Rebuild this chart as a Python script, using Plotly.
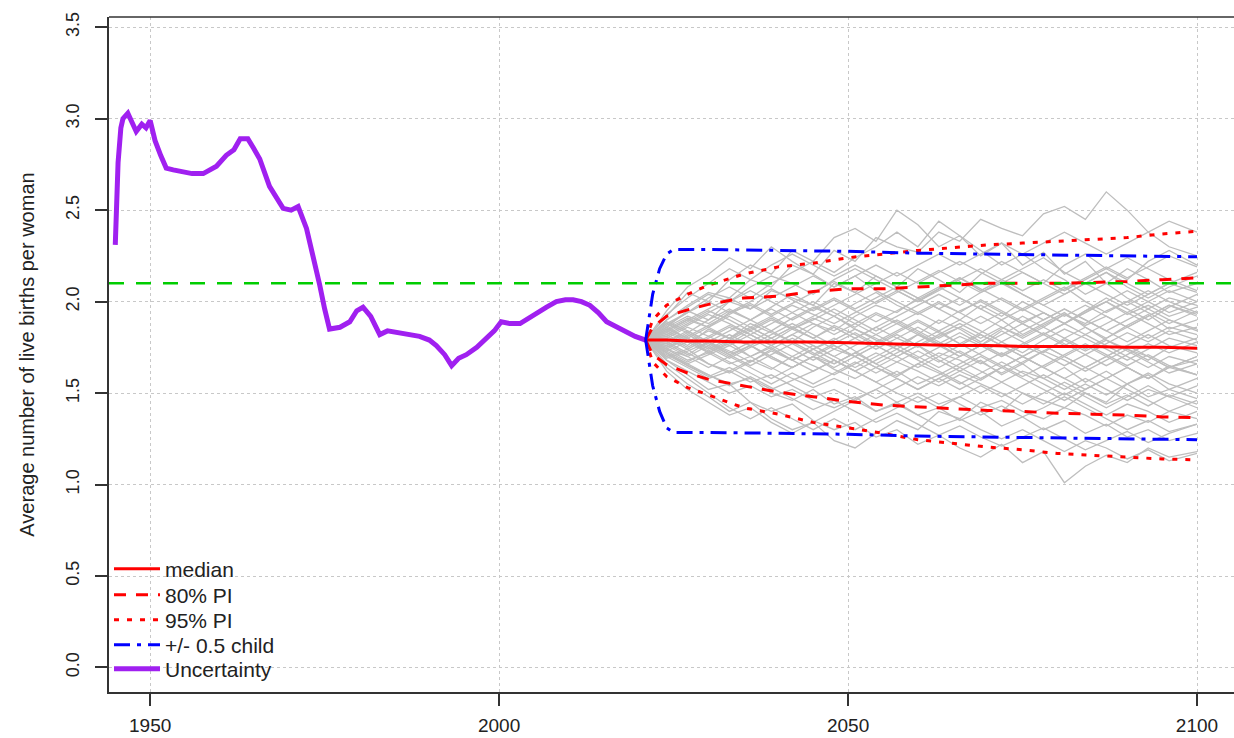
import plotly.graph_objects as go

# ---------------- data ----------------
HIST_YEARS = [1945.0, 1945.4, 1945.8, 1946.1, 1946.8, 1947.4, 1948.0, 1948.8, 1949.4, 1950.0,
              1950.7, 1951.5, 1952.3, 1953.3, 1954.3, 1956.0, 1957.6, 1958.5, 1959.5, 1960.9,
              1962.0, 1962.9, 1964.0, 1964.8, 1965.7, 1967.1, 1968.0, 1969.05, 1970.2, 1971.2,
              1972.4, 1973.6, 1974.3, 1975.0, 1975.7, 1977.2, 1978.6, 1979.6, 1980.5, 1981.6,
              1982.9, 1984.0, 1985.3, 1987.0, 1988.6, 1990.0, 1991.0, 1992.2, 1993.2, 1994.2,
              1995.3, 1996.8, 1998.2, 1999.3, 2000.3, 2001.5, 2003.0, 2004.2, 2005.4, 2006.8,
              2008.2, 2009.5, 2010.6, 2011.8, 2013.0, 2014.2, 2015.4, 2016.8, 2018.3, 2019.5,
              2021.0]
HIST_TFR = [2.31, 2.76, 2.95, 3.00, 3.03, 2.98, 2.93, 2.97, 2.95, 2.99,
            2.88, 2.80, 2.73, 2.72, 2.71, 2.70, 2.70, 2.72, 2.74, 2.80,
            2.83, 2.89, 2.89, 2.84, 2.78, 2.63, 2.58, 2.51, 2.50, 2.52,
            2.40, 2.22, 2.09, 1.96, 1.85, 1.86, 1.89, 1.95, 1.97, 1.92,
            1.82, 1.84, 1.83, 1.82, 1.81, 1.79, 1.76, 1.71, 1.65, 1.69,
            1.71, 1.75, 1.80, 1.84, 1.89, 1.88, 1.88, 1.91, 1.94, 1.97,
            2.00, 2.01, 2.01, 2.00, 1.98, 1.94, 1.89, 1.86, 1.83, 1.81,
            1.79]

PI_YEARS = [2021, 2022, 2024, 2027, 2030, 2035, 2040, 2045, 2050, 2055, 2060, 2065,
            2070, 2075, 2080, 2085, 2090, 2095, 2100]
MEDIAN = [1.79, 1.79, 1.79, 1.785, 1.785, 1.78, 1.78, 1.78, 1.775, 1.77, 1.765, 1.76,
          1.76, 1.755, 1.755, 1.755, 1.75, 1.75, 1.745]
PI80_UP = [1.79, 1.86, 1.92, 1.955, 1.985, 2.02, 2.03, 2.055, 2.07, 2.07, 2.08, 2.09,
           2.10, 2.10, 2.10, 2.105, 2.11, 2.12, 2.13]
PI80_LO = [1.79, 1.71, 1.655, 1.61, 1.575, 1.54, 1.505, 1.48, 1.455, 1.435, 1.425, 1.415,
           1.405, 1.40, 1.39, 1.385, 1.38, 1.37, 1.365]
PI95_UP = [1.79, 1.90, 1.98, 2.04, 2.09, 2.15, 2.19, 2.21, 2.24, 2.26, 2.28, 2.295,
           2.31, 2.32, 2.33, 2.34, 2.35, 2.37, 2.385]
PI95_LO = [1.79, 1.67, 1.59, 1.53, 1.49, 1.42, 1.385, 1.34, 1.31, 1.28, 1.245, 1.225,
           1.205, 1.19, 1.17, 1.16, 1.15, 1.14, 1.135]

HALF_YEARS = [2021, 2022, 2023, 2024, 2025, 2030, 2040, 2050, 2060, 2070, 2080, 2090, 2100]
HALF_UP = [1.79, 2.04, 2.18, 2.26, 2.285, 2.285, 2.28, 2.275, 2.265, 2.26, 2.255, 2.25, 2.245]
HALF_LO = [1.79, 1.54, 1.40, 1.31, 1.285, 1.285, 1.28, 1.275, 1.265, 1.26, 1.255, 1.25, 1.245]

REPLACEMENT = 2.1

TRAJ_YEARS = [2021, 2024, 2027, 2030, 2033, 2036, 2039, 2042, 2045, 2048, 2051, 2054, 2057, 2060,
              2063, 2066, 2069, 2072, 2075, 2078, 2081, 2084, 2087, 2090, 2093, 2096, 2100]
TRAJECTORIES = [
    [1.79, 1.90, 1.98, 2.05, 2.02, 2.12, 2.08, 2.20, 2.15, 2.28, 2.22, 2.35, 2.30, 2.27, 2.38, 2.33, 2.45, 2.40, 2.36, 2.48, 2.52, 2.45, 2.60, 2.50, 2.38, 2.30, 2.25],
    [1.79, 1.68, 1.60, 1.52, 1.55, 1.45, 1.40, 1.44, 1.35, 1.30, 1.34, 1.26, 1.30, 1.22, 1.27, 1.20, 1.15, 1.22, 1.12, 1.18, 1.01, 1.10, 1.16, 1.12, 1.20, 1.15, 1.18],
    [1.79, 1.92, 2.05, 2.00, 2.12, 2.20, 2.15, 2.28, 2.22, 2.35, 2.40, 2.33, 2.50, 2.42, 2.30, 2.36, 2.25, 2.32, 2.20, 2.27, 2.15, 2.22, 2.10, 2.18, 2.12, 2.05, 2.10],
    [1.79, 1.64, 1.55, 1.48, 1.40, 1.45, 1.36, 1.30, 1.34, 1.24, 1.20, 1.28, 1.35, 1.30, 1.40, 1.36, 1.45, 1.40, 1.50, 1.46, 1.42, 1.50, 1.45, 1.55, 1.48, 1.52, 1.47],
    [1.79, 1.86, 1.95, 1.90, 2.00, 1.96, 2.06, 2.02, 1.98, 2.10, 2.05, 2.14, 2.08, 2.18, 2.12, 2.05, 2.15, 2.22, 2.16, 2.10, 2.20, 2.26, 2.18, 2.12, 2.22, 2.28, 2.20],
    [1.79, 1.72, 1.65, 1.60, 1.55, 1.58, 1.50, 1.46, 1.52, 1.44, 1.48, 1.40, 1.45, 1.38, 1.42, 1.35, 1.40, 1.32, 1.37, 1.30, 1.35, 1.28, 1.33, 1.26, 1.30, 1.24, 1.28],
    [1.79, 1.82, 1.76, 1.85, 1.80, 1.88, 1.83, 1.78, 1.86, 1.92, 1.85, 1.80, 1.74, 1.82, 1.77, 1.70, 1.76, 1.84, 1.78, 1.72, 1.80, 1.86, 1.79, 1.74, 1.68, 1.75, 1.80],
    [1.79, 1.75, 1.80, 1.72, 1.78, 1.70, 1.75, 1.68, 1.74, 1.80, 1.73, 1.66, 1.72, 1.78, 1.84, 1.77, 1.83, 1.90, 1.82, 1.88, 1.94, 1.86, 1.80, 1.87, 1.93, 1.85, 1.90],
    [1.79, 1.84, 1.90, 1.86, 1.94, 1.98, 1.92, 1.86, 1.80, 1.87, 1.82, 1.76, 1.70, 1.76, 1.68, 1.62, 1.68, 1.60, 1.66, 1.58, 1.64, 1.56, 1.62, 1.55, 1.60, 1.52, 1.58],
    [1.79, 1.74, 1.68, 1.72, 1.66, 1.70, 1.76, 1.82, 1.88, 1.84, 1.92, 1.98, 1.94, 2.02, 1.96, 1.90, 1.98, 1.92, 2.00, 1.94, 1.88, 1.95, 2.02, 1.96, 1.90, 1.97, 2.04],
    [1.79, 1.88, 1.83, 1.90, 1.96, 1.90, 1.97, 2.04, 1.98, 1.92, 1.86, 1.93, 1.88, 1.82, 1.90, 1.85, 1.78, 1.85, 1.92, 1.86, 1.93, 1.88, 1.95, 2.00, 1.94, 1.88, 1.95],
    [1.79, 1.70, 1.74, 1.66, 1.62, 1.68, 1.63, 1.70, 1.65, 1.60, 1.66, 1.72, 1.67, 1.62, 1.56, 1.62, 1.57, 1.64, 1.70, 1.64, 1.58, 1.52, 1.58, 1.64, 1.58, 1.65, 1.60],
    [1.79, 1.83, 1.78, 1.72, 1.77, 1.84, 1.78, 1.85, 1.90, 1.96, 1.90, 1.84, 1.90, 1.84, 1.78, 1.72, 1.66, 1.72, 1.66, 1.73, 1.68, 1.62, 1.68, 1.74, 1.70, 1.64, 1.70],
    [1.79, 1.77, 1.71, 1.78, 1.73, 1.67, 1.74, 1.80, 1.74, 1.68, 1.62, 1.56, 1.62, 1.55, 1.60, 1.66, 1.72, 1.78, 1.72, 1.79, 1.85, 1.80, 1.74, 1.68, 1.74, 1.80, 1.76],
    [1.79, 1.90, 1.97, 2.04, 2.00, 2.08, 2.14, 2.10, 2.04, 2.12, 2.18, 2.12, 2.06, 2.00, 2.07, 2.13, 2.06, 2.12, 2.18, 2.24, 2.16, 2.10, 2.16, 2.08, 2.02, 2.08, 2.14],
    [1.79, 1.68, 1.62, 1.56, 1.50, 1.54, 1.48, 1.52, 1.46, 1.42, 1.47, 1.52, 1.45, 1.50, 1.44, 1.48, 1.42, 1.46, 1.40, 1.36, 1.42, 1.38, 1.32, 1.38, 1.34, 1.40, 1.36],
    [1.79, 1.81, 1.87, 1.93, 1.88, 1.82, 1.76, 1.82, 1.76, 1.70, 1.76, 1.82, 1.88, 1.94, 1.88, 1.95, 2.00, 1.94, 1.88, 1.82, 1.76, 1.82, 1.76, 1.70, 1.64, 1.70, 1.66],
    [1.79, 1.73, 1.78, 1.84, 1.80, 1.86, 1.80, 1.74, 1.68, 1.74, 1.70, 1.76, 1.82, 1.76, 1.82, 1.88, 1.82, 1.76, 1.70, 1.64, 1.70, 1.76, 1.70, 1.76, 1.82, 1.76, 1.72],
    [1.79, 1.86, 1.80, 1.74, 1.80, 1.76, 1.70, 1.64, 1.70, 1.66, 1.72, 1.66, 1.60, 1.66, 1.72, 1.68, 1.62, 1.56, 1.62, 1.58, 1.52, 1.58, 1.52, 1.46, 1.52, 1.48, 1.54],
    [1.79, 1.78, 1.84, 1.78, 1.84, 1.90, 1.96, 1.90, 1.96, 2.02, 1.96, 2.02, 2.08, 2.02, 1.96, 2.02, 1.96, 1.90, 1.96, 2.02, 2.08, 2.00, 1.94, 2.00, 2.06, 2.00, 1.94],
    [1.79, 1.88, 1.94, 2.02, 2.08, 2.02, 2.10, 2.16, 2.22, 2.16, 2.24, 2.30, 2.38, 2.30, 2.44, 2.36, 2.28, 2.20, 2.26, 2.18, 2.12, 2.04, 2.10, 2.02, 1.96, 2.02, 1.98],
    [1.79, 1.70, 1.64, 1.58, 1.62, 1.56, 1.60, 1.54, 1.48, 1.52, 1.46, 1.40, 1.44, 1.38, 1.32, 1.36, 1.30, 1.25, 1.30, 1.24, 1.18, 1.24, 1.20, 1.14, 1.19, 1.13, 1.17],
    [1.79, 1.76, 1.70, 1.64, 1.70, 1.64, 1.58, 1.64, 1.70, 1.64, 1.70, 1.64, 1.58, 1.52, 1.58, 1.52, 1.58, 1.64, 1.58, 1.52, 1.46, 1.52, 1.58, 1.52, 1.46, 1.40, 1.46],
    [1.79, 1.85, 1.91, 1.86, 1.80, 1.86, 1.92, 1.98, 1.93, 1.88, 1.94, 2.00, 2.06, 2.00, 2.06, 2.12, 2.18, 2.12, 2.06, 2.12, 2.06, 2.12, 2.18, 2.24, 2.18, 2.12, 2.06],
    [1.79, 1.74, 1.80, 1.75, 1.69, 1.75, 1.80, 1.86, 1.80, 1.86, 1.80, 1.74, 1.80, 1.86, 1.80, 1.86, 1.92, 1.86, 1.80, 1.86, 1.80, 1.74, 1.80, 1.86, 1.92, 1.98, 1.92],
    [1.79, 1.80, 1.74, 1.80, 1.86, 1.80, 1.74, 1.68, 1.62, 1.68, 1.62, 1.68, 1.74, 1.68, 1.62, 1.56, 1.50, 1.56, 1.50, 1.44, 1.50, 1.44, 1.38, 1.44, 1.40, 1.34, 1.40],
    [1.79, 1.95, 2.08, 2.15, 2.24, 2.18, 2.30, 2.22, 2.15, 2.08, 2.14, 2.06, 2.00, 1.94, 2.00, 1.94, 1.88, 1.94, 1.88, 1.82, 1.88, 1.94, 2.00, 1.94, 2.00, 2.06, 2.00],
    [1.79, 1.62, 1.52, 1.45, 1.38, 1.42, 1.34, 1.28, 1.34, 1.40, 1.46, 1.52, 1.58, 1.52, 1.58, 1.64, 1.70, 1.64, 1.70, 1.76, 1.70, 1.64, 1.70, 1.64, 1.58, 1.64, 1.60],
    [1.79, 1.82, 1.88, 1.94, 2.00, 2.06, 2.00, 1.94, 2.00, 1.94, 1.88, 1.82, 1.76, 1.82, 1.76, 1.70, 1.76, 1.70, 1.76, 1.82, 1.88, 1.82, 1.88, 1.94, 1.88, 1.82, 1.86],
    [1.79, 1.76, 1.82, 1.76, 1.70, 1.76, 1.70, 1.64, 1.70, 1.76, 1.70, 1.76, 1.70, 1.64, 1.70, 1.76, 1.82, 1.76, 1.70, 1.64, 1.58, 1.64, 1.70, 1.76, 1.70, 1.64, 1.70],
    [1.79, 1.86, 1.92, 1.88, 1.95, 1.90, 1.84, 1.91, 1.97, 1.92, 1.99, 2.05, 1.98, 1.93, 1.99, 1.94, 2.01, 1.95, 1.89, 1.94, 1.88, 1.95, 2.00, 1.93, 1.98, 1.92, 1.97],
    [1.79, 1.69, 1.73, 1.78, 1.71, 1.76, 1.69, 1.64, 1.70, 1.63, 1.58, 1.64, 1.59, 1.66, 1.61, 1.55, 1.61, 1.67, 1.61, 1.55, 1.49, 1.55, 1.49, 1.55, 1.61, 1.55, 1.50],
    [1.79, 1.83, 1.89, 1.95, 1.90, 1.84, 1.90, 1.85, 1.91, 1.86, 1.80, 1.86, 1.92, 1.98, 2.04, 1.98, 2.05, 2.10, 2.04, 1.98, 2.04, 2.10, 2.16, 2.10, 2.04, 2.10, 2.05],
    [1.79, 1.72, 1.66, 1.71, 1.76, 1.70, 1.64, 1.58, 1.53, 1.58, 1.53, 1.47, 1.53, 1.59, 1.54, 1.60, 1.55, 1.50, 1.44, 1.50, 1.56, 1.50, 1.44, 1.49, 1.43, 1.49, 1.44],
    [1.79, 1.84, 1.79, 1.73, 1.79, 1.85, 1.91, 1.85, 1.80, 1.74, 1.80, 1.86, 1.80, 1.75, 1.81, 1.86, 1.80, 1.86, 1.81, 1.87, 1.93, 1.87, 1.92, 1.86, 1.80, 1.86, 1.82],
    [1.79, 1.78, 1.72, 1.66, 1.61, 1.67, 1.73, 1.68, 1.74, 1.79, 1.85, 1.79, 1.74, 1.69, 1.75, 1.81, 1.76, 1.70, 1.76, 1.71, 1.65, 1.71, 1.77, 1.83, 1.78, 1.84, 1.79],
    [1.79, 1.87, 1.94, 2.00, 1.94, 2.00, 2.07, 2.01, 1.95, 2.01, 1.95, 1.89, 1.95, 2.01, 2.07, 2.13, 2.07, 2.01, 1.95, 2.01, 2.07, 2.13, 2.19, 2.13, 2.19, 2.25, 2.19],
    [1.79, 1.71, 1.65, 1.59, 1.64, 1.58, 1.52, 1.57, 1.62, 1.68, 1.62, 1.56, 1.50, 1.45, 1.50, 1.44, 1.38, 1.43, 1.37, 1.42, 1.48, 1.42, 1.36, 1.30, 1.35, 1.29, 1.33],
    [1.79, 1.81, 1.75, 1.81, 1.76, 1.82, 1.88, 1.94, 1.88, 1.82, 1.88, 1.94, 1.89, 1.83, 1.77, 1.83, 1.77, 1.71, 1.77, 1.83, 1.77, 1.71, 1.65, 1.71, 1.77, 1.72, 1.78],
    [1.79, 1.75, 1.81, 1.87, 1.93, 1.99, 1.93, 1.99, 2.05, 2.11, 2.05, 1.99, 2.05, 2.11, 2.17, 2.11, 2.05, 2.11, 2.04, 1.98, 1.92, 1.98, 1.92, 1.86, 1.92, 1.98, 1.93],
    [1.79, 1.77, 1.83, 1.77, 1.71, 1.65, 1.71, 1.77, 1.71, 1.77, 1.83, 1.77, 1.83, 1.89, 1.83, 1.77, 1.71, 1.65, 1.59, 1.65, 1.71, 1.77, 1.71, 1.65, 1.71, 1.65, 1.60],
    [1.79, 1.89, 1.84, 1.78, 1.72, 1.78, 1.84, 1.78, 1.72, 1.66, 1.72, 1.78, 1.84, 1.90, 1.84, 1.90, 1.84, 1.78, 1.84, 1.90, 1.96, 1.90, 1.84, 1.78, 1.84, 1.90, 1.85],
    [1.79, 1.74, 1.70, 1.76, 1.82, 1.76, 1.82, 1.88, 1.82, 1.76, 1.70, 1.64, 1.70, 1.76, 1.70, 1.64, 1.58, 1.64, 1.70, 1.76, 1.70, 1.64, 1.58, 1.64, 1.58, 1.64, 1.68],
    [1.79, 1.80, 1.86, 1.81, 1.87, 1.82, 1.76, 1.70, 1.76, 1.70, 1.64, 1.70, 1.76, 1.70, 1.64, 1.70, 1.76, 1.82, 1.88, 1.94, 1.88, 1.94, 2.00, 2.06, 2.00, 1.94, 2.00],
    [1.79, 1.73, 1.67, 1.73, 1.67, 1.61, 1.55, 1.61, 1.55, 1.61, 1.67, 1.61, 1.67, 1.73, 1.67, 1.73, 1.67, 1.61, 1.67, 1.73, 1.79, 1.73, 1.79, 1.73, 1.67, 1.61, 1.66],
    [1.79, 1.85, 1.80, 1.86, 1.92, 1.86, 1.80, 1.86, 1.92, 1.98, 2.04, 2.10, 2.16, 2.10, 2.16, 2.22, 2.16, 2.10, 2.16, 2.10, 2.04, 2.10, 2.04, 1.98, 2.04, 2.10, 2.16],
    [1.79, 1.93, 2.02, 2.10, 2.18, 2.12, 2.20, 2.26, 2.20, 2.14, 2.20, 2.14, 2.08, 2.02, 2.08, 2.02, 1.96, 2.02, 1.96, 1.90, 1.96, 1.90, 1.84, 1.90, 1.96, 1.90, 1.84],
    [1.79, 1.66, 1.58, 1.50, 1.42, 1.36, 1.42, 1.36, 1.30, 1.36, 1.30, 1.36, 1.42, 1.48, 1.42, 1.48, 1.54, 1.48, 1.54, 1.60, 1.54, 1.48, 1.42, 1.48, 1.54, 1.48, 1.42],
    [1.79, 1.72, 1.66, 1.60, 1.54, 1.59, 1.53, 1.47, 1.41, 1.46, 1.40, 1.34, 1.39, 1.33, 1.27, 1.32, 1.26, 1.21, 1.26, 1.31, 1.25, 1.19, 1.24, 1.29, 1.23, 1.28, 1.33],
    [1.79, 1.84, 1.90, 1.96, 2.02, 1.96, 2.02, 2.08, 2.14, 2.08, 2.14, 2.20, 2.14, 2.20, 2.26, 2.20, 2.26, 2.32, 2.26, 2.32, 2.38, 2.32, 2.26, 2.32, 2.38, 2.44, 2.38],
]

X_TICKS = [1950, 2000, 2050, 2100]
Y_TICKS = [0.0, 0.5, 1.0, 1.5, 2.0, 2.5, 3.0, 3.5]
Y_TICK_LABELS = ["0.0", "0.5", "1.0", "1.5", "2.0", "2.5", "3.0", "3.5"]
Y_TITLE = "Average number of live births per woman"

# ---------------- figure ----------------
FONT = "Liberation Sans, Arial, sans-serif"
RED = "#FF0000"
BLUE = "#0000FF"
PURPLE = "#A020F0"
GREEN = "#00CD00"
GREY = "#BEBEBE"
TXT = "#222222"

fig = go.Figure()

for traj in TRAJECTORIES:
    fig.add_trace(go.Scatter(x=TRAJ_YEARS, y=traj, mode="lines",
                             line=dict(color=GREY, width=1.3), showlegend=False,
                             hoverinfo="skip"))

fig.add_hline(y=REPLACEMENT, line=dict(color=GREEN, width=2.5, dash="15px,12px"))

fig.add_trace(go.Scatter(x=HIST_YEARS, y=HIST_TFR, mode="lines", name="Uncertainty",
                         line=dict(color=PURPLE, width=5), legend="legend5"))
fig.add_trace(go.Scatter(x=PI_YEARS, y=MEDIAN, mode="lines", name="median",
                         line=dict(color=RED, width=3), legend="legend"))
fig.add_trace(go.Scatter(x=PI_YEARS, y=PI80_UP, mode="lines", name="80% PI",
                         line=dict(color=RED, width=3, dash="12px,10px"), legend="legend2"))
fig.add_trace(go.Scatter(x=PI_YEARS, y=PI80_LO, mode="lines", name="80% PI",
                         line=dict(color=RED, width=3, dash="12px,10px"), showlegend=False))
fig.add_trace(go.Scatter(x=PI_YEARS, y=PI95_UP, mode="lines", name="95% PI",
                         line=dict(color=RED, width=3, dash="5px,8px"), legend="legend3"))
fig.add_trace(go.Scatter(x=PI_YEARS, y=PI95_LO, mode="lines", name="95% PI",
                         line=dict(color=RED, width=3, dash="5px,8px"), showlegend=False))
fig.add_trace(go.Scatter(x=HALF_YEARS, y=HALF_UP, mode="lines", name="+/- 0.5 child",
                         line=dict(color=BLUE, width=3, dash="16px,7px,4px,7px"),
                         legend="legend4"))
fig.add_trace(go.Scatter(x=HALF_YEARS, y=HALF_LO, mode="lines", name="+/- 0.5 child",
                         line=dict(color=BLUE, width=3, dash="16px,7px,4px,7px"),
                         showlegend=False))

# top border of the box
fig.add_shape(type="line", xref="paper", yref="paper", x0=0, x1=1, y0=1, y1=1,
              line=dict(color="#333333", width=1.5))

LEG_Y = [0.1822, 0.1437, 0.1067, 0.0696, 0.0341]
legend_style = dict(x=0.0, xanchor="left", yanchor="middle", bgcolor="rgba(0,0,0,0)",
                    font=dict(size=21, family=FONT, color=TXT), itemwidth=46)

fig.update_layout(
    width=1234, height=738,
    margin=dict(l=109, r=0, t=17, b=46),
    paper_bgcolor="white", plot_bgcolor="white",
    font=dict(family=FONT, size=18, color=TXT),
    showlegend=True,
    legend=dict(y=LEG_Y[0], **legend_style),
    legend2=dict(y=LEG_Y[1], **legend_style),
    legend3=dict(y=LEG_Y[2], **legend_style),
    legend4=dict(y=LEG_Y[3], **legend_style),
    legend5=dict(y=LEG_Y[4], **legend_style),
    xaxis=dict(range=[1944.1, 2105.3], tickmode="array", tickvals=X_TICKS,
               showgrid=True, gridcolor="#C8C8C8", griddash="dot", gridwidth=1,
               zeroline=False, showline=True, linecolor="#333333", linewidth=1.5,
               ticks="outside", ticklen=12, tickwidth=1.5, tickcolor="#333333",
               ticklabelstandoff=3, tickfont=dict(size=19), automargin=False),
    yaxis=dict(range=[-0.134, 3.556], tickmode="array", tickvals=Y_TICKS,
               ticktext=Y_TICK_LABELS, tickangle=-90,
               showgrid=True, gridcolor="#C8C8C8", griddash="dot", gridwidth=1,
               zeroline=False, showline=True, linecolor="#333333", linewidth=1.5,
               ticks="outside", ticklen=12, tickwidth=1.5, tickcolor="#333333",
               ticklabelstandoff=9, tickfont=dict(size=18), automargin=False,
               title=dict(text=Y_TITLE, font=dict(size=20), standoff=23)),
)

fig.write_html("out.html", config={"displayModeBar": False},
               post_script="document.body.style.margin='0';")
